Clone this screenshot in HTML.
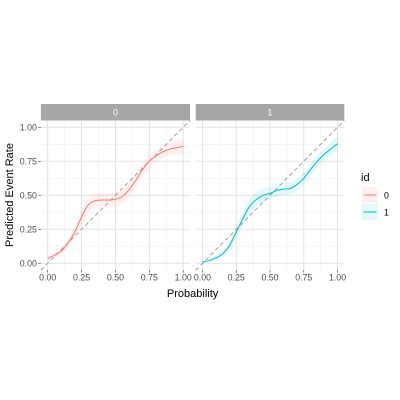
<!DOCTYPE html>
<html><head><meta charset="utf-8"><style>body{margin:0;background:#fff}svg{display:block;font-family:"Liberation Sans",sans-serif}</style></head>
<body>
<svg id="c" width="400" height="400" viewBox="0 0 400 400"></svg>
<script>
const probs=[0,0.05,0.1,0.15,0.2,0.25,0.3,0.35,0.4,0.45,0.5,0.55,0.6,0.65,0.7,0.75,0.8,0.85,0.9,0.95,1.0];
const rate0=[0.035,0.06,0.09,0.15,0.23,0.34,0.43,0.46,0.465,0.465,0.47,0.49,0.54,0.61,0.69,0.75,0.79,0.82,0.84,0.85,0.86];
const rate1=[0.01,0.02,0.04,0.07,0.13,0.23,0.33,0.42,0.47,0.5,0.515,0.535,0.545,0.55,0.58,0.625,0.69,0.75,0.8,0.84,0.88];
const se0=[0.02,0.02,0.025,0.03,0.04,0.05,0.055,0.055,0.05,0.05,0.05,0.05,0.05,0.05,0.05,0.05,0.045,0.045,0.045,0.05,0.055];
const se1=[0.01,0.01,0.015,0.02,0.03,0.04,0.05,0.055,0.055,0.05,0.045,0.045,0.045,0.045,0.045,0.045,0.045,0.045,0.045,0.05,0.055];
const ticks=[0,0.25,0.5,0.75,1];
const tickLabels=["0.00","0.25","0.50","0.75","1.00"];
const ids=["0","1"];
const NS="http://www.w3.org/2000/svg",svg=document.getElementById('c');
function mk(t,a,p){const e=document.createElementNS(NS,t);for(const k in a)e.setAttribute(k,a[k]);(p||svg).appendChild(e);return e;}
const panels=[{x0:40.9,x1:190,rate:rate0,se:se0,col:"#F8766D",fill:"rgba(248,118,109,0.1)"},{x0:195.7,x1:344.3,rate:rate1,se:se1,col:"#00BFC4",fill:"rgba(0,191,196,0.1)"}];
const yT=120.5,yB=270.1;
function ys(v){return yB-(v+0.05)/1.1*(yB-yT);}
function smooth(pts){let d="M"+pts[0][0]+","+pts[0][1];for(let i=0;i<pts.length-1;i++){const p0=pts[Math.max(0,i-1)],p1=pts[i],p2=pts[i+1],p3=pts[Math.min(pts.length-1,i+2)];d+=" C"+(p1[0]+(p2[0]-p0[0])/6)+","+(p1[1]+(p2[1]-p0[1])/6)+" "+(p2[0]-(p3[0]-p1[0])/6)+","+(p2[1]-(p3[1]-p1[1])/6)+" "+p2[0]+","+p2[1];}return d;}
panels.forEach((P,pi)=>{
 const xs=v=>P.x0+(v+0.05)/1.1*(P.x1-P.x0);
 const g=mk('g',{});
 const st=mk('rect',{x:P.x0,y:104,width:P.x1-P.x0,height:16.5,fill:"#a6a6a6"},g);
 const stt=mk('text',{x:(P.x0+P.x1)/2,y:115.5,"font-size":8.8,fill:"#fff","text-anchor":"middle"},g);stt.textContent=ids[pi];
 
 for(let i=0;i<ticks.length-1;i++){const m=(ticks[i]+ticks[i+1])/2;
  mk('line',{x1:xs(m),x2:xs(m),y1:yT,y2:yB,stroke:"#f0f0f0","stroke-width":0.6},g);
  mk('line',{x1:P.x0,x2:P.x1,y1:ys(m),y2:ys(m),stroke:"#f0f0f0","stroke-width":0.6},g);}
 ticks.forEach(t=>{mk('line',{x1:xs(t),x2:xs(t),y1:yT,y2:yB,stroke:"#e3e3e3","stroke-width":1},g);
  mk('line',{x1:P.x0,x2:P.x1,y1:ys(t),y2:ys(t),stroke:"#e3e3e3","stroke-width":1},g);});
 mk('line',{x1:xs(-0.05),y1:ys(-0.05),x2:xs(1.05),y2:ys(1.05),stroke:"#a0a0a0","stroke-width":1,"stroke-dasharray":"4,3"},g);
 const up=probs.map((p,i)=>[xs(p),ys(P.rate[i]+P.se[i])]),lo=probs.map((p,i)=>[xs(p),ys(P.rate[i]-P.se[i])]).reverse();
 const band=mk('path',{d:smooth(up)+" L"+smooth(lo).slice(1)+" Z",fill:P.fill,stroke:"none"},g);
 
 const ln=mk('path',{d:smooth(probs.map((p,i)=>[xs(p),ys(P.rate[i])])),fill:"none",stroke:P.col,"stroke-width":1},g);
 
 ticks.forEach((t,i)=>{mk('line',{x1:xs(t),x2:xs(t),y1:yB,y2:yB+2.5,stroke:"#333","stroke-width":0.6},g);
  const tl=mk('text',{x:xs(t),y:yB+10.5,"font-size":8.8,fill:"#4d4d4d","text-anchor":"middle"},g);tl.textContent=tickLabels[i];
  
  if(pi===0){mk('line',{x1:P.x0-2.5,x2:P.x0,y1:ys(t),y2:ys(t),stroke:"#333","stroke-width":0.6},g);
   const yl=mk('text',{x:P.x0-4,y:ys(t)+3.2,"font-size":8.8,fill:"#4d4d4d","text-anchor":"end"},g);yl.textContent=tickLabels[i];
   }});
});
const xt=mk('text',{x:192.6,y:297,"font-size":11,fill:"#000","text-anchor":"middle"});xt.textContent="Probability";

const yt=mk('text',{x:0,y:0,"font-size":11,fill:"#000","text-anchor":"middle",transform:"translate(13,195) rotate(-90)"});yt.textContent="Predicted Event Rate";

const lg=mk('g',{});
const lt=mk('text',{x:361,y:181,"font-size":11,fill:"#000"},lg);lt.textContent="id";
ids.forEach((id,i)=>{const y=187+i*17;
 const e=mk('g',{},lg);
 mk('rect',{x:362,y:y,width:16,height:16,fill:panels[i].fill},e);
 mk('line',{x1:363.5,x2:376.5,y1:y+8,y2:y+8,stroke:panels[i].col,"stroke-width":1},e);
 const t=mk('text',{x:384,y:y+11.5,"font-size":8.8,fill:"#000"},e);t.textContent=id;});
</script>
</body></html>
